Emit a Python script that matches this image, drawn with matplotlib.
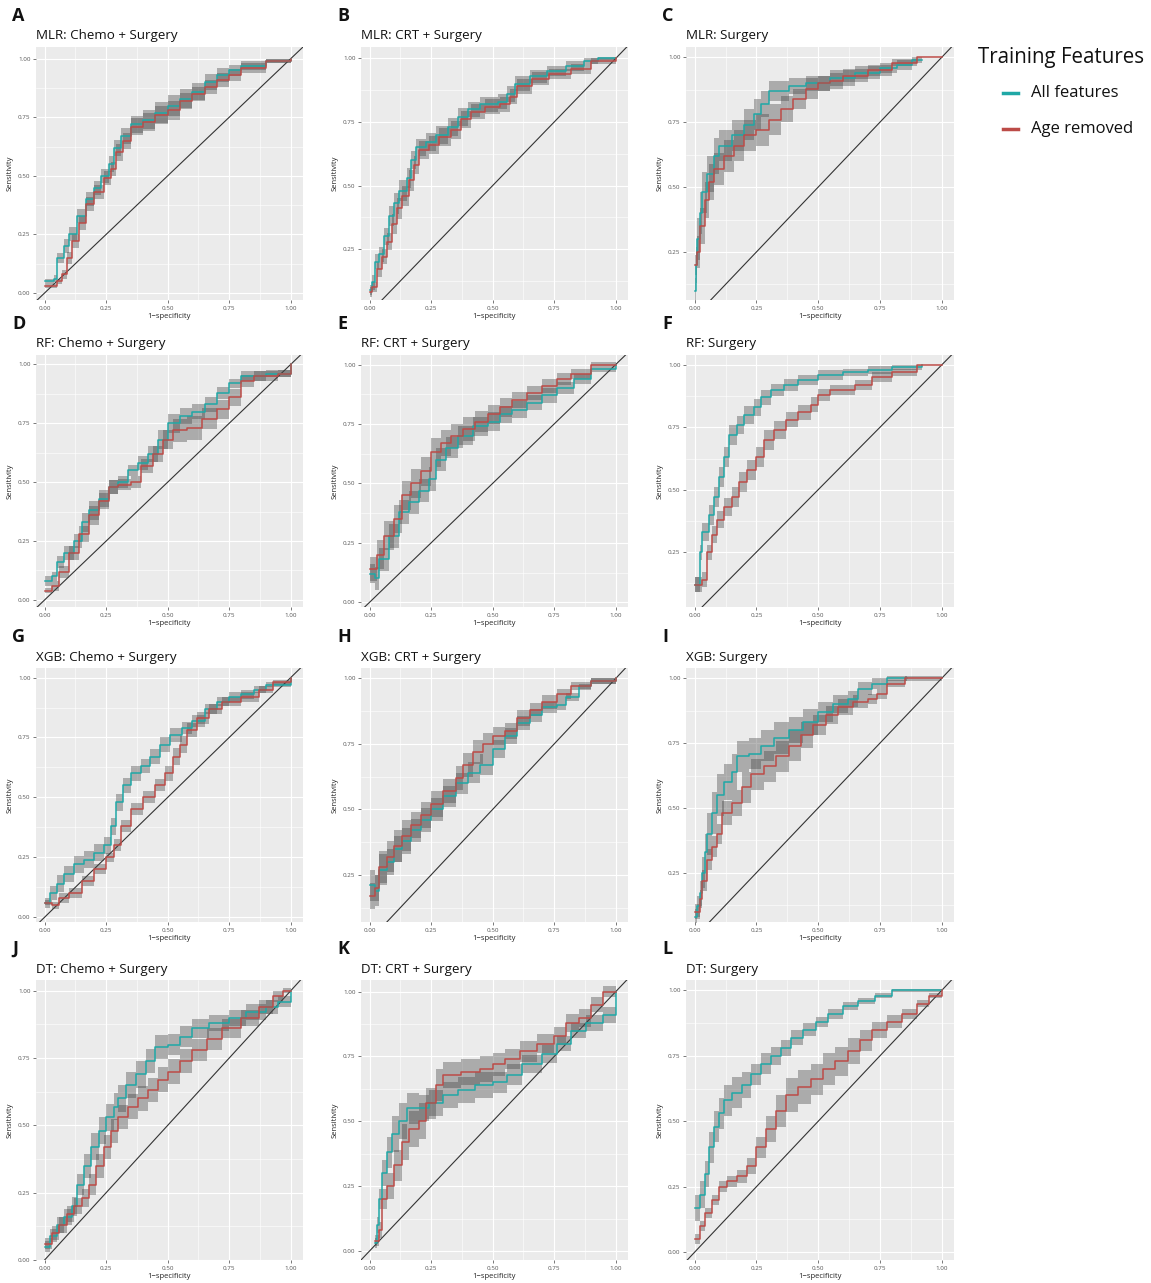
import matplotlib.pyplot as plt
import numpy as np

plt.rcParams["font.family"] = ["Open Sans", "DejaVu Sans"]

LETTERS = list("ABCDEFGHIJKL")
TITLES = [
    "MLR: Chemo + Surgery", "MLR: CRT + Surgery", "MLR: Surgery",
    "RF: Chemo + Surgery", "RF: CRT + Surgery", "RF: Surgery",
    "XGB: Chemo + Surgery", "XGB: CRT + Surgery", "XGB: Surgery",
    "DT: Chemo + Surgery", "DT: CRT + Surgery", "DT: Surgery",
]
SERIES = ["All features", "Age removed"]
TICKS = [0.0, 0.25, 0.5, 0.75, 1.0]
TICK_LABELS = ["0.00", "0.25", "0.50", "0.75", "1.00"]

# --- A: MLR Chemo + Surgery
A_ALL_X = [0, .04, .05, .08, .10, .13, .17, .20, .23, .26, .28, .31, .35, .40, .45, .50, .55, .60, .65, .70, .75, .80, .90, 1.0]
A_ALL_Y = [.05, .06, .15, .20, .25, .33, .40, .45, .50, .55, .62, .67, .72, .74, .77, .80, .83, .86, .90, .93, .95, .97, .99, 1.0]
A_ALL_B = [.01, .015, .02, .03, .03, .03, .03, .03, .03, .035, .035, .035, .035, .04, .045, .045, .04, .035, .035, .03, .025, .02, .01, 0]
A_AGE_X = [0, .05, .07, .09, .11, .14, .17, .20, .24, .27, .29, .32, .35, .40, .45, .50, .55, .60, .65, .70, .75, .80, .90, 1.0]
A_AGE_Y = [.03, .05, .08, .15, .22, .30, .38, .43, .49, .53, .60, .65, .71, .73, .76, .78, .82, .85, .88, .91, .93, .96, .99, 1.0]
A_AGE_B = [.01, .01, .02, .025, .03, .03, .03, .03, .03, .03, .035, .035, .035, .04, .04, .04, .035, .03, .03, .03, .025, .02, .01, 0]

# --- B: MLR CRT + Surgery
B_ALL_X = [0, .01, .02, .04, .06, .08, .10, .12, .15, .17, .19, .23, .27, .32, .36, .40, .45, .52, .56, .59, .65, .72, .80, .87, .93, 1.0]
B_ALL_Y = [.09, .12, .20, .23, .30, .38, .43, .48, .53, .60, .65, .67, .70, .73, .77, .80, .82, .83, .86, .90, .93, .95, .97, .99, 1.0, 1.0]
B_ALL_B = [.02, .03, .03, .03, .035, .04, .04, .04, .04, .035, .035, .035, .035, .035, .035, .03, .03, .03, .03, .03, .025, .02, .02, .01, .005, 0]
B_AGE_X = [0, .01, .03, .05, .07, .09, .11, .13, .16, .18, .20, .24, .28, .33, .37, .41, .47, .53, .57, .60, .66, .73, .82, .90, 1.0]
B_AGE_Y = [.08, .10, .17, .22, .28, .35, .41, .46, .52, .58, .64, .66, .69, .72, .76, .79, .81, .82, .85, .89, .92, .94, .96, .99, 1.0]
B_AGE_B = [.02, .02, .03, .03, .035, .04, .04, .04, .04, .035, .035, .035, .035, .035, .035, .03, .03, .03, .03, .03, .025, .02, .02, .01, 0]

# --- C: MLR Surgery
C_ALL_X = [0, .005, .01, .02, .03, .05, .08, .10, .15, .20, .24, .27, .30, .38, .45, .55, .65, .75, .82, .88, .92]
C_ALL_Y = [.10, .20, .30, .40, .48, .55, .62, .66, .70, .74, .78, .82, .87, .89, .90, .92, .94, .96, .97, .99, .99]
C_ALL_B = [.05, .07, .08, .08, .08, .07, .07, .06, .06, .06, .06, .05, .04, .03, .03, .03, .025, .02, .02, .01, .01]
C_AGE_X = [0, .01, .02, .04, .06, .08, .12, .16, .20, .25, .30, .35, .40, .45, .50, .55, .60, .70, .80, .90, 1.0]
C_AGE_Y = [.20, .25, .35, .45, .52, .57, .62, .66, .70, .72, .76, .80, .84, .88, .90, .91, .93, .95, .98, 1.0, 1.0]
C_AGE_B = [.04, .06, .07, .07, .07, .06, .06, .06, .06, .06, .06, .05, .04, .04, .03, .03, .025, .02, .015, 0, 0]

# --- D: RF Chemo + Surgery
D_ALL_X = [0, .03, .05, .08, .12, .15, .18, .22, .26, .30, .34, .38, .42, .46, .50, .55, .60, .65, .70, .75, .80, .90, 1.0]
D_ALL_Y = [.08, .10, .16, .20, .25, .33, .38, .43, .48, .50, .55, .58, .62, .68, .75, .78, .80, .83, .88, .92, .95, .96, 1.0]
D_ALL_B = [.02, .02, .025, .03, .03, .04, .04, .035, .03, .025, .025, .03, .035, .04, .04, .035, .03, .03, .025, .02, .02, .015, 0]
D_AGE_X = [0, .03, .06, .10, .14, .18, .22, .26, .30, .35, .39, .44, .48, .52, .58, .64, .70, .75, .80, .85, .95, 1.0]
D_AGE_Y = [.04, .06, .12, .20, .28, .36, .42, .48, .49, .50, .57, .62, .68, .72, .73, .77, .81, .86, .93, .95, .96, 1.0]
D_AGE_B = [.01, .02, .025, .03, .035, .04, .035, .03, .025, .025, .03, .035, .04, .05, .05, .045, .04, .035, .025, .02, .015, 0]

# --- E: RF CRT + Surgery
E_ALL_X = [0, .02, .04, .08, .12, .16, .20, .24, .27, .31, .36, .42, .48, .53, .58, .64, .70, .76, .83, .90, 1.0]
E_ALL_Y = [.12, .10, .18, .28, .38, .42, .47, .52, .60, .65, .70, .74, .76, .79, .81, .84, .87, .90, .94, .98, 1.0]
E_ALL_B = [.04, .05, .05, .05, .05, .05, .05, .05, .05, .045, .04, .04, .04, .035, .035, .03, .03, .025, .02, .01, 0]
E_AGE_X = [0, .03, .06, .10, .13, .17, .21, .25, .29, .33, .38, .43, .48, .53, .58, .64, .70, .76, .82, .90, 1.0]
E_AGE_Y = [.14, .20, .28, .35, .45, .50, .55, .63, .67, .70, .73, .76, .79, .82, .85, .88, .91, .94, .96, 1.0, 1.0]
E_AGE_B = [.05, .06, .06, .06, .06, .06, .06, .06, .055, .05, .05, .045, .04, .04, .035, .03, .03, .025, .02, .01, 0]

# --- F: RF Surgery
F_ALL_X = [0, .02, .03, .06, .08, .10, .12, .14, .17, .20, .24, .27, .31, .36, .42, .50, .60, .70, .80, .85, .92]
F_ALL_Y = [.12, .25, .33, .40, .47, .55, .63, .72, .76, .80, .83, .87, .90, .92, .94, .96, .97, .98, .99, .99, 1.0]
F_ALL_B = [.03, .03, .035, .04, .04, .04, .04, .04, .035, .035, .035, .03, .025, .025, .02, .02, .015, .015, .01, .01, .005]
F_AGE_X = [0, .03, .05, .07, .09, .12, .15, .18, .21, .25, .28, .32, .37, .42, .47, .50, .55, .65, .72, .80, .90, 1.0]
F_AGE_Y = [.12, .14, .25, .32, .38, .43, .47, .53, .58, .63, .70, .74, .78, .81, .84, .88, .90, .92, .95, .97, 1.0, 1.0]
F_AGE_B = [.03, .03, .03, .035, .035, .035, .04, .04, .04, .04, .04, .035, .03, .03, .03, .025, .02, .02, .02, .015, 0, 0]

# --- G: XGB Chemo + Surgery
G_ALL_X = [0, .02, .05, .08, .12, .16, .20, .24, .27, .29, .32, .35, .39, .43, .47, .51, .56, .60, .65, .70, .75, .80, .85, .90, 1.0]
G_ALL_Y = [.06, .10, .14, .18, .22, .24, .27, .30, .38, .48, .55, .60, .63, .67, .72, .76, .79, .82, .87, .90, .92, .93, .95, .97, 1.0]
G_ALL_B = [.02, .03, .035, .035, .035, .035, .035, .035, .035, .035, .03, .03, .03, .03, .03, .03, .025, .025, .02, .02, .02, .02, .015, .01, 0]
G_AGE_X = [0, .03, .06, .10, .15, .20, .25, .28, .31, .35, .40, .45, .49, .52, .55, .58, .62, .67, .72, .80, .87, .93, 1.0]
G_AGE_Y = [.06, .05, .08, .10, .15, .20, .25, .30, .38, .45, .50, .55, .60, .67, .72, .78, .83, .87, .90, .92, .95, .98, 1.0]
G_AGE_B = [.01, .015, .02, .02, .02, .02, .02, .025, .025, .025, .025, .025, .03, .035, .035, .03, .025, .02, .02, .02, .015, .01, 0]

# --- H: XGB CRT + Surgery
H_ALL_X = [0, .02, .04, .07, .10, .13, .17, .21, .25, .30, .35, .40, .45, .50, .55, .60, .65, .70, .76, .80, .85, .90, 1.0]
H_ALL_Y = [.21, .19, .27, .30, .35, .38, .42, .46, .50, .55, .60, .64, .67, .73, .78, .83, .86, .89, .90, .93, .97, .99, 1.0]
H_ALL_B = [.06, .06, .06, .05, .05, .05, .045, .045, .045, .04, .04, .04, .04, .035, .03, .025, .025, .02, .02, .015, .01, .01, 0]
H_AGE_X = [0, .02, .04, .07, .10, .13, .17, .21, .25, .30, .35, .38, .42, .46, .50, .55, .60, .65, .70, .76, .82, .90, 1.0]
H_AGE_Y = [.17, .20, .28, .32, .36, .40, .44, .48, .52, .57, .62, .67, .72, .75, .78, .80, .85, .88, .91, .94, .97, .99, 1.0]
H_AGE_B = [.05, .05, .06, .06, .06, .06, .05, .05, .05, .045, .045, .045, .045, .04, .035, .03, .03, .025, .025, .02, .015, .01, 0]

# --- I: XGB Surgery
I_ALL_X = [0, .01, .02, .03, .04, .05, .07, .09, .12, .15, .17, .22, .27, .32, .38, .44, .50, .56, .62, .66, .72, .78, .86]
I_ALL_Y = [.08, .12, .17, .25, .33, .40, .48, .55, .60, .64, .70, .71, .74, .77, .80, .83, .87, .90, .92, .96, .98, 1.0, 1.0]
I_ALL_B = [.03, .04, .05, .06, .07, .08, .08, .08, .07, .07, .06, .06, .06, .06, .05, .05, .04, .035, .03, .025, .02, .01, .01]
I_AGE_X = [0, .02, .03, .05, .07, .09, .11, .15, .19, .23, .28, .33, .38, .43, .48, .53, .58, .64, .70, .74, .78, .85, 1.0]
I_AGE_Y = [.10, .15, .22, .30, .35, .40, .48, .52, .58, .63, .66, .70, .74, .78, .82, .86, .89, .91, .92, .94, .98, 1.0, 1.0]
I_AGE_B = [.03, .035, .04, .04, .04, .04, .045, .05, .06, .06, .06, .06, .06, .05, .04, .035, .03, .025, .02, .02, .015, .01, 0]

# --- J: DT Chemo + Surgery
J_ALL_X = [0, .02, .05, .08, .11, .13, .16, .19, .22, .25, .28, .30, .33, .37, .41, .45, .50, .55, .60, .67, .75, .82, .90, .95, 1.0]
J_ALL_Y = [.05, .09, .13, .16, .20, .28, .35, .42, .48, .53, .57, .60, .65, .69, .74, .79, .80, .83, .86, .88, .90, .92, .94, .96, 1.0]
J_ALL_B = [.02, .025, .03, .03, .035, .04, .045, .05, .05, .05, .05, .05, .05, .05, .045, .045, .04, .04, .035, .03, .03, .03, .025, .02, 0]
J_AGE_X = [0, .03, .06, .09, .12, .15, .18, .21, .24, .27, .30, .34, .38, .42, .46, .50, .55, .60, .66, .72, .80, .87, .93, .97, 1.0]
J_AGE_Y = [.06, .10, .13, .17, .20, .23, .28, .35, .42, .48, .53, .57, .60, .63, .67, .70, .74, .78, .82, .86, .90, .94, .98, 1.0, 1.0]
J_AGE_B = [.02, .025, .03, .03, .03, .035, .04, .045, .045, .045, .045, .045, .045, .045, .045, .045, .045, .04, .04, .035, .03, .025, .02, .01, 0]

# --- K: DT CRT + Surgery
K_ALL_X = [.02, .03, .04, .05, .07, .09, .12, .15, .20, .24, .30, .36, .43, .50, .56, .62, .70, .76, .82, .88, .95, 1.0, 1.0]
K_ALL_Y = [.03, .10, .20, .30, .38, .45, .50, .55, .55, .57, .60, .62, .64, .65, .68, .72, .76, .80, .85, .88, .91, .94, 1.0]
K_ALL_B = [.02, .03, .04, .05, .06, .07, .07, .06, .05, .05, .05, .05, .05, .04, .04, .035, .035, .03, .03, .03, .03, .03, 0]
K_AGE_X = [.02, .04, .05, .07, .10, .13, .16, .20, .23, .27, .30, .37, .45, .50, .55, .61, .68, .75, .80, .85, .90, .95, 1.0]
K_AGE_Y = [.04, .08, .20, .25, .33, .42, .47, .50, .57, .64, .68, .69, .70, .72, .74, .77, .80, .83, .88, .90, .95, 1.0, 1.0]
K_AGE_B = [.02, .03, .04, .05, .06, .07, .07, .07, .06, .06, .05, .05, .05, .045, .04, .04, .035, .035, .035, .035, .03, .02, 0]

# --- L: DT Surgery
L_ALL_X = [0, .02, .04, .06, .08, .10, .12, .15, .19, .23, .27, .31, .35, .39, .44, .49, .54, .60, .66, .73, .80, .95, 1.0]
L_ALL_Y = [.17, .22, .30, .40, .48, .53, .58, .61, .64, .68, .72, .75, .78, .82, .85, .88, .91, .94, .96, .98, 1.0, 1.0, 1.0]
L_ALL_B = [.05, .05, .05, .06, .06, .06, .06, .06, .05, .04, .04, .035, .03, .03, .025, .02, .02, .015, .01, .01, .005, .005, 0]
L_AGE_X = [0, .02, .04, .07, .10, .13, .17, .21, .25, .29, .33, .37, .42, .47, .52, .57, .62, .67, .72, .78, .84, .90, .95, 1.0]
L_AGE_Y = [.05, .10, .15, .20, .25, .27, .29, .33, .40, .47, .54, .60, .63, .66, .70, .73, .77, .81, .85, .88, .91, .95, .98, 1.0]
L_AGE_B = [.02, .02, .02, .02, .02, .02, .025, .03, .04, .05, .06, .065, .065, .06, .06, .055, .05, .04, .03, .025, .02, .015, .01, 0]

PANELS = [
    (A_ALL_X, A_ALL_Y, A_ALL_B, A_AGE_X, A_AGE_Y, A_AGE_B),
    (B_ALL_X, B_ALL_Y, B_ALL_B, B_AGE_X, B_AGE_Y, B_AGE_B),
    (C_ALL_X, C_ALL_Y, C_ALL_B, C_AGE_X, C_AGE_Y, C_AGE_B),
    (D_ALL_X, D_ALL_Y, D_ALL_B, D_AGE_X, D_AGE_Y, D_AGE_B),
    (E_ALL_X, E_ALL_Y, E_ALL_B, E_AGE_X, E_AGE_Y, E_AGE_B),
    (F_ALL_X, F_ALL_Y, F_ALL_B, F_AGE_X, F_AGE_Y, F_AGE_B),
    (G_ALL_X, G_ALL_Y, G_ALL_B, G_AGE_X, G_AGE_Y, G_AGE_B),
    (H_ALL_X, H_ALL_Y, H_ALL_B, H_AGE_X, H_AGE_Y, H_AGE_B),
    (I_ALL_X, I_ALL_Y, I_ALL_B, I_AGE_X, I_AGE_Y, I_AGE_B),
    (J_ALL_X, J_ALL_Y, J_ALL_B, J_AGE_X, J_AGE_Y, J_AGE_B),
    (K_ALL_X, K_ALL_Y, K_ALL_B, K_AGE_X, K_AGE_Y, K_AGE_B),
    (L_ALL_X, L_ALL_Y, L_ALL_B, L_AGE_X, L_AGE_Y, L_AGE_B),
]

# layout (pixels) and per-panel y range
W, H = 1151, 1283
COLS = [(36, 303), (361, 628), (686, 954)]
ROWS = [(47, 300), (355, 607), (668, 922), (980, 1260)]
YLIMS = [(-0.03, 1.05), (0.05, 1.045), (0.065, 1.04),
         (-0.03, 1.04), (-0.02, 1.04), (0.03, 1.04),
         (-0.02, 1.04), (0.07, 1.04), (0.06, 1.04),
         (0.0, 1.04), (-0.035, 1.045), (-0.03, 1.04)]

TEAL = "#1fa8a6"
RED = "#bc4b47"
BG = "#ebebeb"

fig = plt.figure(figsize=(W / 100, H / 100), dpi=100)

for i, data in enumerate(PANELS):
    r, c = divmod(i, 3)
    l, rr = COLS[c]
    t, b = ROWS[r]
    ax = fig.add_axes([l / W, 1 - b / H, (rr - l) / W, (b - t) / H])
    ax.set_facecolor(BG)
    for s in ax.spines.values():
        s.set_visible(False)
    ax.set_xlim(-0.035, 1.05)
    ax.set_ylim(*YLIMS[i])
    ax.set_xticks(TICKS)
    ax.set_xticklabels(TICK_LABELS)
    ax.set_yticks([t_ for t_ in TICKS if t_ >= YLIMS[i][0]])
    ax.set_yticklabels([lab for t_, lab in zip(TICKS, TICK_LABELS) if t_ >= YLIMS[i][0]])
    ax.set_xticks([0.125, 0.375, 0.625, 0.875], minor=True)
    ax.set_yticks([m for m in [0.125, 0.375, 0.625, 0.875] if m >= YLIMS[i][0]], minor=True)
    ax.grid(which="major", color="white", lw=0.8)
    ax.grid(which="minor", color="white", lw=0.4)
    ax.set_axisbelow(True)
    ax.tick_params(which="major", length=2, width=0.5, color="#444444",
                   labelsize=4.5, labelcolor="#555555", pad=2)
    ax.tick_params(which="minor", length=0)

    ax.axline((0, 0), (1, 1), color="#333333", lw=0.8, zorder=2)

    ax_x, ax_y, ax_b, ag_x, ag_y, ag_b = data
    for xs, ys, bs in [(ax_x, ax_y, ax_b), (ag_x, ag_y, ag_b)]:
        ys_ = np.array(ys)
        bs_ = np.array(bs)
        ax.fill_between(xs, ys_ - bs_, ys_ + bs_, step="post",
                        color="#444444", alpha=0.38, lw=0, zorder=3)
    ax.plot(ax_x, ax_y, drawstyle="steps-post", color=TEAL, lw=1.1, zorder=4)
    ax.plot(ag_x, ag_y, drawstyle="steps-post", color=RED, lw=1.1, zorder=5)

    ax.set_xlabel("1\u2212specificity", fontsize=5.5, color="#222222", labelpad=2)
    ax.set_ylabel("Sensitivity", fontsize=5.5, color="#222222", labelpad=3)

    fig.text(l / W, 1 - (t - 11) / H, TITLES[i], fontsize=9.6, color="#111111",
             ha="left", va="center")
    fig.text((l - 24) / W, 1 - (t - 31) / H, LETTERS[i], fontsize=13,
             fontweight="bold", color="#111111", ha="left", va="center")

# legend
fig.text(978 / W, 1 - 58 / H, "Training Features", fontsize=14.8, color="#111111",
         ha="left", va="center")
for k, (name, col) in enumerate(zip(SERIES, [TEAL, RED])):
    yy = 1 - (93 + 36 * k) / H
    fig.add_artist(plt.Line2D([1003 / W, 1018 / W], [yy, yy], color=col, lw=2.5))
    fig.text(1031 / W, yy, name, fontsize=12, color="#111111", ha="left", va="center")

fig.savefig("out.png", dpi=100, facecolor="white")
